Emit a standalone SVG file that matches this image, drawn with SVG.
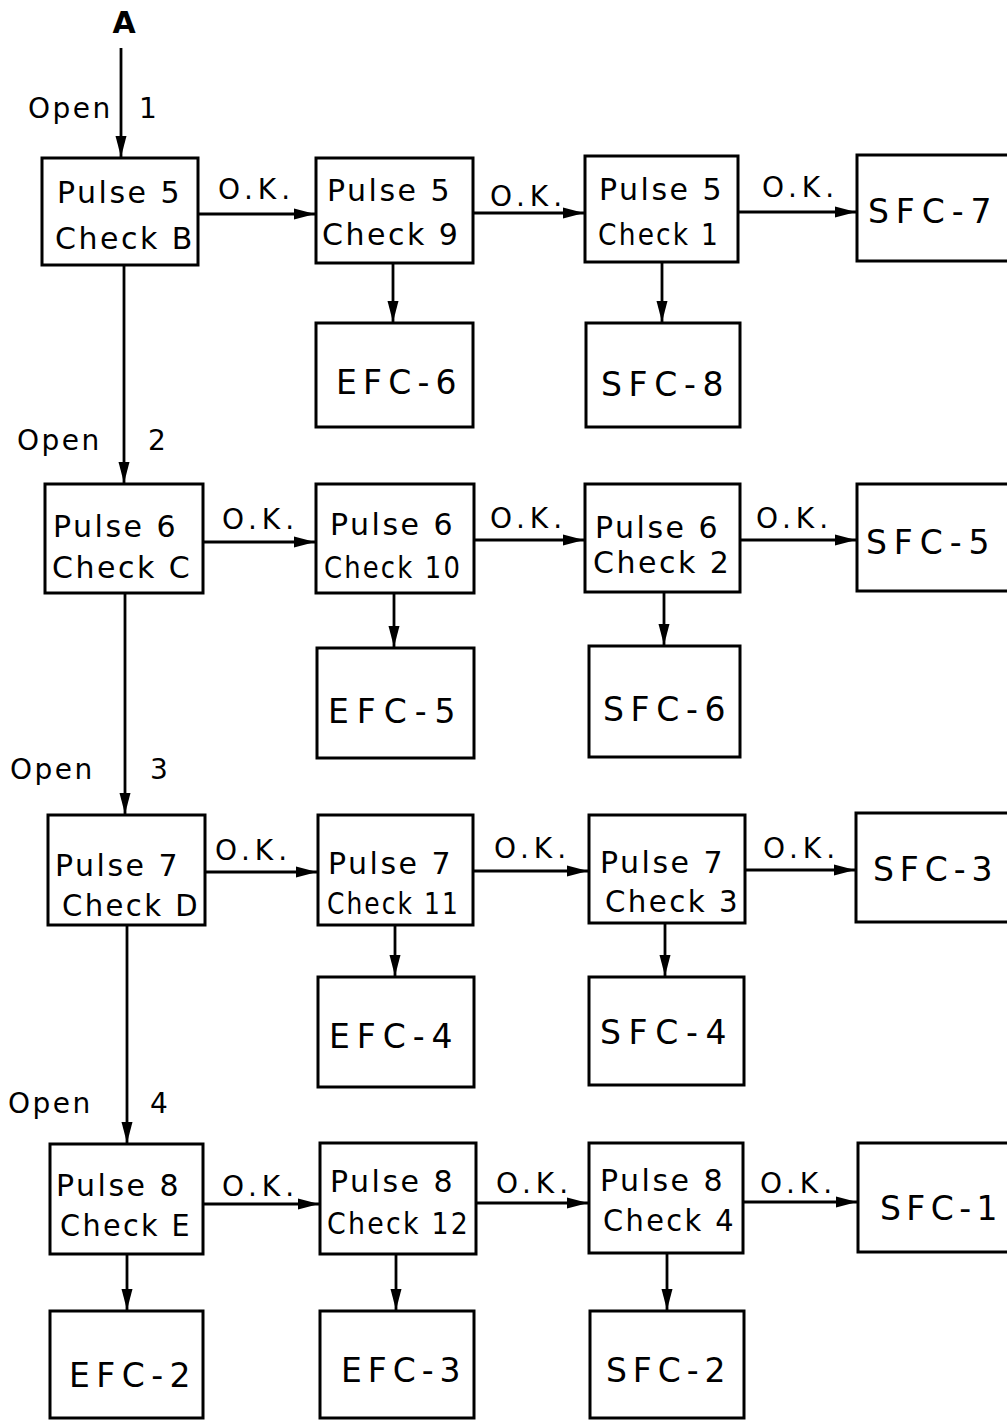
<svg xmlns="http://www.w3.org/2000/svg" width="1007" height="1420" viewBox="0 0 1007 1420">
<defs>
<marker id="ah" markerUnits="userSpaceOnUse" markerWidth="22" markerHeight="14" refX="21" refY="7" orient="auto">
<path d="M0,1.5 L21,7 L0,12.5 z" fill="#000"/>
</marker>
<style>
rect{fill:#fff;stroke:#000;stroke-width:3}
text{font-family:"DejaVu Sans","Liberation Sans",sans-serif;font-size:30px;letter-spacing:2.5px;fill:#000}
.c line{stroke:#000;stroke-width:2.8;marker-end:url(#ah)}
.lbl{font-size:28px}
.ok{font-size:28px;letter-spacing:5px}
.fc{font-size:33px}
</style>
</defs>
<rect x="0" y="0" width="1007" height="1420" style="fill:#fff;stroke:none"/>

<g class="c" id="connectors">
<line x1="121" y1="48" x2="121" y2="157"/>
<line x1="198" y1="214" x2="315" y2="214"/>
<line x1="473" y1="213" x2="584" y2="213"/>
<line x1="738" y1="212" x2="856" y2="212"/>
<line x1="393" y1="263" x2="393" y2="322"/>
<line x1="662" y1="262" x2="662" y2="322"/>
<line x1="124" y1="265" x2="124" y2="483"/>

<line x1="203" y1="542" x2="315" y2="542"/>
<line x1="474" y1="540" x2="584" y2="540"/>
<line x1="740" y1="540" x2="856" y2="540"/>
<line x1="394" y1="593" x2="394" y2="647"/>
<line x1="664" y1="592" x2="664" y2="645"/>
<line x1="125" y1="593" x2="125" y2="814"/>

<line x1="205" y1="872" x2="317" y2="872"/>
<line x1="473" y1="871" x2="588" y2="871"/>
<line x1="745" y1="870" x2="855" y2="870"/>
<line x1="395" y1="925" x2="395" y2="976"/>
<line x1="665" y1="923" x2="665" y2="976"/>
<line x1="127" y1="925" x2="127" y2="1143"/>

<line x1="203" y1="1204" x2="319" y2="1204"/>
<line x1="476" y1="1203" x2="588" y2="1203"/>
<line x1="743" y1="1202" x2="857" y2="1202"/>
<line x1="127" y1="1254" x2="127" y2="1310"/>
<line x1="396" y1="1254" x2="396" y2="1310"/>
<line x1="667" y1="1253" x2="667" y2="1310"/>
</g>

<g id="labels">
<text x="124" y="33" text-anchor="middle" style="font-weight:bold;letter-spacing:0">A</text>
<text class="lbl" x="28" y="118">Open</text><text class="lbl" x="139" y="118">1</text>
<text class="lbl" x="17" y="450">Open</text><text class="lbl" x="148" y="450">2</text>
<text class="lbl" x="10" y="779">Open</text><text class="lbl" x="150" y="779">3</text>
<text class="lbl" x="8" y="1113">Open</text><text class="lbl" x="150" y="1113">4</text>
<text class="ok" x="218" y="199">O.K.</text>
<text class="ok" x="490" y="206">O.K.</text>
<text class="ok" x="762" y="197">O.K.</text>
<text class="ok" x="222" y="529">O.K.</text>
<text class="ok" x="490" y="528">O.K.</text>
<text class="ok" x="756" y="528">O.K.</text>
<text class="ok" x="215" y="860">O.K.</text>
<text class="ok" x="494" y="858">O.K.</text>
<text class="ok" x="763" y="858">O.K.</text>
<text class="ok" x="222" y="1196">O.K.</text>
<text class="ok" x="496" y="1193">O.K.</text>
<text class="ok" x="760" y="1193">O.K.</text>
</g>

<g id="p5cB"><rect x="42" y="158" width="156" height="107"/><text x="57" y="203">Pulse 5</text><text x="55" y="249">Check B</text></g>
<g id="p5c9"><rect x="316" y="158" width="157" height="105"/><text x="327" y="201">Pulse 5</text><text x="322" y="245">Check 9</text></g>
<g id="p5c1"><rect x="585" y="156" width="153" height="106"/><text x="599" y="200">Pulse 5</text><text x="598" y="245" textLength="122" lengthAdjust="spacingAndGlyphs">Check 1</text></g>
<g id="sfc7"><rect x="857" y="155" width="160" height="106"/><text class="fc" x="868" y="223" textLength="126">SFC-7</text></g>
<g id="efc6"><rect x="316" y="323" width="157" height="104"/><text class="fc" x="336" y="394" textLength="123">EFC-6</text></g>
<g id="sfc8"><rect x="586" y="323" width="154" height="104"/><text class="fc" x="601" y="396" textLength="125">SFC-8</text></g>

<g id="p6cC"><rect x="45" y="484" width="158" height="109"/><text x="53" y="537">Pulse 6</text><text x="52" y="578">Check C</text></g>
<g id="p6c10"><rect x="316" y="484" width="158" height="109"/><text x="330" y="535">Pulse 6</text><text x="324" y="578" textLength="138" lengthAdjust="spacingAndGlyphs">Check 10</text></g>
<g id="p6c2"><rect x="585" y="484" width="155" height="108"/><text x="595" y="538">Pulse 6</text><text x="593" y="573">Check 2</text></g>
<g id="sfc5"><rect x="857" y="484" width="160" height="107"/><text class="fc" x="866" y="554" textLength="126">SFC-5</text></g>
<g id="efc5"><rect x="317" y="648" width="157" height="110"/><text class="fc" x="328" y="723" textLength="130">EFC-5</text></g>
<g id="sfc6"><rect x="589" y="646" width="151" height="111"/><text class="fc" x="603" y="721" textLength="125">SFC-6</text></g>

<g id="p7cD"><rect x="48" y="815" width="157" height="110"/><text x="55" y="876">Pulse 7</text><text x="62" y="916" textLength="138" lengthAdjust="spacingAndGlyphs">Check D</text></g>
<g id="p7c11"><rect x="318" y="815" width="155" height="110"/><text x="328" y="874">Pulse 7</text><text x="327" y="914" textLength="133" lengthAdjust="spacingAndGlyphs">Check 11</text></g>
<g id="p7c3"><rect x="589" y="815" width="156" height="108"/><text x="600" y="873">Pulse 7</text><text x="605" y="912" textLength="135" lengthAdjust="spacingAndGlyphs">Check 3</text></g>
<g id="sfc3"><rect x="856" y="813" width="161" height="109"/><text class="fc" x="873" y="881" textLength="122">SFC-3</text></g>
<g id="efc4"><rect x="318" y="977" width="156" height="110"/><text class="fc" x="329" y="1048" textLength="126">EFC-4</text></g>
<g id="sfc4"><rect x="589" y="977" width="155" height="108"/><text class="fc" x="600" y="1044" textLength="129">SFC-4</text></g>

<g id="p8cE"><rect x="50" y="1144" width="153" height="110"/><text x="56" y="1196">Pulse 8</text><text x="60" y="1236" textLength="132" lengthAdjust="spacingAndGlyphs">Check E</text></g>
<g id="p8c12"><rect x="320" y="1143" width="156" height="111"/><text x="330" y="1192">Pulse 8</text><text x="327" y="1234" textLength="143" lengthAdjust="spacingAndGlyphs">Check 12</text></g>
<g id="p8c4"><rect x="589" y="1143" width="154" height="110"/><text x="600" y="1191">Pulse 8</text><text x="603" y="1231" textLength="133" lengthAdjust="spacingAndGlyphs">Check 4</text></g>
<g id="sfc1"><rect x="858" y="1143" width="159" height="109"/><text class="fc" x="880" y="1220" textLength="120">SFC-1</text></g>
<g id="efc2"><rect x="50" y="1311" width="153" height="107"/><text class="fc" x="69" y="1387" textLength="124">EFC-2</text></g>
<g id="efc3"><rect x="320" y="1311" width="154" height="107"/><text class="fc" x="341" y="1382" textLength="122">EFC-3</text></g>
<g id="sfc2"><rect x="590" y="1311" width="154" height="107"/><text class="fc" x="606" y="1382" textLength="122">SFC-2</text></g>
</svg>
